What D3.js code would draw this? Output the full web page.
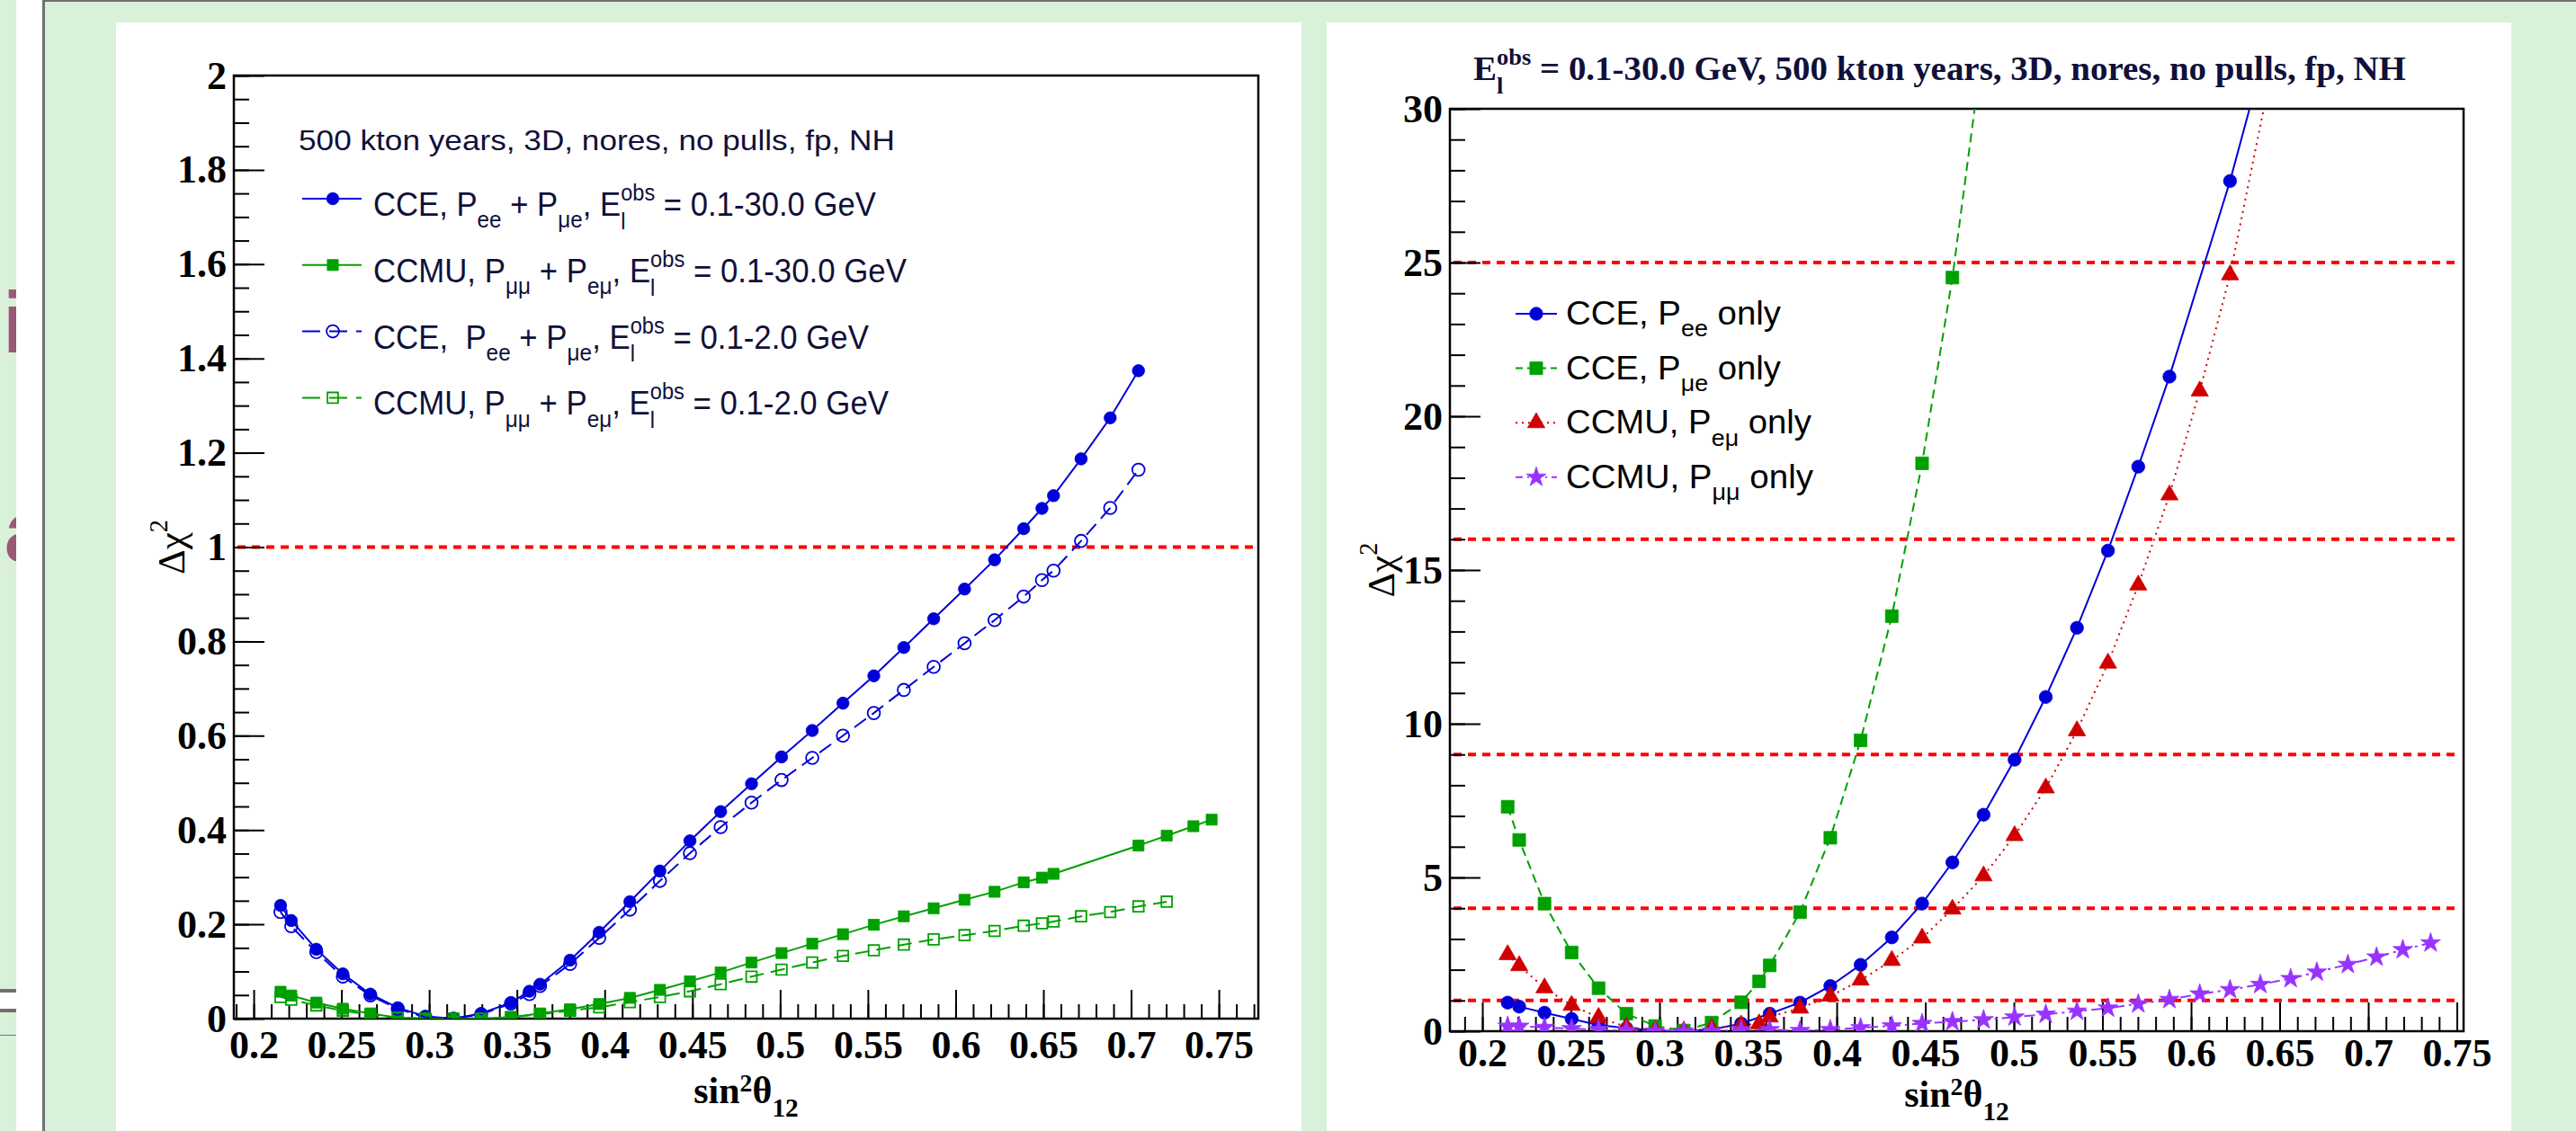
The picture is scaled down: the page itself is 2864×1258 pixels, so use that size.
<!DOCTYPE html>
<html>
<head>
<meta charset="utf-8">
<script src="https://cdn.jsdelivr.net/npm/d3@7"></script>
<style>
html, body { margin: 0; padding: 0; background: #d9f1d9; }
svg { display: block; }
text { white-space: pre; }
</style>
</head>
<body>
<svg id="chart" width="2864" height="1258"></svg>
<script>
// ---- left panel data (delta chi2 vs sin^2 theta12) ----
var xCceL = [0.2153,0.2214,0.2357,0.2508,0.2665,0.2821,0.2978,0.3139,0.3296,0.3466,0.3571,0.3632,0.3803,0.3969,0.4144,0.4315,0.4486,0.4661,0.4837,0.5008,0.5183,0.5358,0.5534,0.5705,0.5875,0.6051,0.6222,0.6388,0.6492,0.6558,0.6715,0.6881,0.7042];
var cce30 = [0.240,0.208,0.147,0.095,0.052,0.023,0.005,0.000,0.011,0.034,0.058,0.073,0.124,0.183,0.248,0.313,0.377,0.439,0.498,0.555,0.611,0.669,0.727,0.787,0.848,0.911,0.973,1.039,1.082,1.109,1.187,1.274,1.374];
var cce2  = [0.226,0.196,0.141,0.089,0.049,0.021,0.003,0.000,0.009,0.032,0.052,0.069,0.116,0.171,0.231,0.292,0.351,0.406,0.458,0.506,0.553,0.600,0.648,0.697,0.746,0.796,0.845,0.895,0.930,0.950,1.013,1.083,1.164];

var xCcmu30 = [0.2153,0.2214,0.2357,0.2508,0.2665,0.2821,0.2978,0.3139,0.3296,0.3466,0.3632,0.3803,0.3969,0.4144,0.4315,0.4486,0.4661,0.4837,0.5008,0.5183,0.5358,0.5534,0.5705,0.5875,0.6051,0.6222,0.6388,0.6492,0.6558,0.7042,0.7203,0.7355,0.7459];
var ccmu30  = [0.057,0.049,0.034,0.021,0.011,0.002,0,0,0,0.003,0.011,0.020,0.031,0.044,0.061,0.079,0.098,0.119,0.139,0.159,0.179,0.199,0.217,0.234,0.252,0.269,0.289,0.299,0.307,0.367,0.388,0.408,0.422];

var xCcmu2 = [0.2153,0.2214,0.2357,0.2508,0.2665,0.2821,0.2978,0.3139,0.3296,0.3466,0.3632,0.3803,0.3969,0.4144,0.4315,0.4486,0.4661,0.4837,0.5008,0.5183,0.5358,0.5534,0.5705,0.5875,0.6051,0.6222,0.6388,0.6492,0.6558,0.6715,0.6881,0.7042,0.7203];
var ccmu2  = [0.046,0.040,0.028,0.017,0.008,0.002,0,0,0,0.003,0.009,0.017,0.024,0.035,0.046,0.058,0.073,0.089,0.104,0.119,0.133,0.145,0.157,0.168,0.177,0.186,0.197,0.202,0.206,0.217,0.226,0.238,0.248];

// ---- right panel data ----
var xPee = [0.2143,0.2208,0.2351,0.2504,0.2656,0.2813,0.2975,0.3137,0.3294,0.3461,0.3622,0.3793,0.3964,0.4135,0.4311,0.4482,0.4653,0.4829,0.5004,0.5180,0.5356,0.5531,0.5702,0.5878,0.6220,0.6391];
var pee  = [0.93,0.80,0.60,0.40,0.20,0.10,0.02,0.0,0.05,0.25,0.57,0.93,1.47,2.16,3.05,4.15,5.49,7.04,8.83,10.87,13.12,15.63,18.36,21.29,27.65,31.3];

var xPme = [0.2143,0.2208,0.2351,0.2504,0.2656,0.2813,0.2975,0.3137,0.3294,0.3461,0.3562,0.3622,0.3793,0.3964,0.4135,0.4311,0.4482,0.4653,0.4829];
var pme  = [7.30,6.22,4.15,2.56,1.40,0.57,0.17,0.02,0.28,0.94,1.62,2.14,3.87,6.29,9.46,13.50,18.47,24.51,32.2];

var xPem = [0.2143,0.2208,0.2351,0.2504,0.2656,0.2813,0.2975,0.3137,0.3294,0.3461,0.3562,0.3622,0.3793,0.3964,0.4135,0.4311,0.4482,0.4653,0.4829,0.5004,0.5180,0.5356,0.5531,0.5702,0.5878,0.6049,0.6220,0.6562];
var pem  = [2.49,2.13,1.41,0.84,0.45,0.14,0.03,0.0,0.09,0.20,0.24,0.46,0.75,1.14,1.66,2.30,3.03,3.97,5.05,6.36,7.91,9.77,11.97,14.51,17.44,20.82,24.60,34.3];

var xPmm = [0.2143,0.2208,0.2351,0.2504,0.2656,0.2813,0.2975,0.3137,0.3294,0.3461,0.3622,0.3793,0.3964,0.4135,0.4311,0.4482,0.4653,0.4829,0.5004,0.5180,0.5356,0.5531,0.5702,0.5878,0.6049,0.6220,0.6391,0.6562,0.6710,0.6885,0.7047,0.7195,0.7352];
var pmm  = [0.16,0.16,0.12,0.08,0.06,0.02,0,0,0,0.04,0.05,0.02,0.05,0.11,0.17,0.25,0.31,0.37,0.46,0.55,0.65,0.75,0.89,1.03,1.21,1.35,1.52,1.71,1.92,2.17,2.41,2.65,2.87];

// ---- axes ----
var xTicks = [0.2,0.25,0.3,0.35,0.4,0.45,0.5,0.55,0.6,0.65,0.7,0.75];
var xTickLabels = ["0.2","0.25","0.3","0.35","0.4","0.45","0.5","0.55","0.6","0.65","0.7","0.75"];
var leftYTicks = [0,0.2,0.4,0.6,0.8,1,1.2,1.4,1.6,1.8,2];
var leftYLabels = ["0","0.2","0.4","0.6","0.8","1","1.2","1.4","1.6","1.8","2"];
var rightYTicks = [0,5,10,15,20,25,30];
var rightYLabels = ["0","5","10","15","20","25","30"];
var leftLevels = [1];
var rightLevels = [1,4,9,16,25];

var BLUE = "#0000d8", GREEN = "#00a000", RED = "#d00000", VIOLET = "#9933ff", TXT = "#10103a";
var SERIF = "'Liberation Serif','Times New Roman',serif";
var SANS = "'Liberation Sans',Arial,sans-serif";

var svg = d3.select("#chart");
var W = 2864, H = 1258;

// page background pieces
svg.append("rect").attr("width", W).attr("height", H).attr("fill", "#d9f1d9");
svg.append("rect").attr("x", 18).attr("y", 0).attr("width", 29).attr("height", H).attr("fill", "#fff");
svg.append("rect").attr("x", 47).attr("y", 0).attr("width", 3).attr("height", H).attr("fill", "#707070");
svg.append("rect").attr("x", 47).attr("y", 0).attr("width", W - 47).attr("height", 2).attr("fill", "#707070");
svg.append("rect").attr("x", 0).attr("y", 1100).attr("width", 18).attr("height", 4).attr("fill", "#707070");
svg.append("rect").attr("x", 0).attr("y", 1104).attr("width", 18).attr("height", 18).attr("fill", "#fff");
svg.append("rect").attr("x", 0).attr("y", 1122).attr("width", 18).attr("height", 4).attr("fill", "#707070");
svg.append("rect").attr("x", 0).attr("y", 1151).attr("width", 18).attr("height", 1).attr("fill", "#6a6ad0");
svg.append("clipPath").attr("id", "clipEdge").append("rect").attr("x", 0).attr("y", 0).attr("width", 18).attr("height", H);
var edge = svg.append("g").attr("clip-path", "url(#clipEdge)")
  .style("font-family", SANS).style("font-weight", "bold").style("font-size", "96px").attr("fill", "#9a5877");
edge.append("text").attr("x", 3).attr("y", 392).text("i");
edge.append("text").attr("x", -22).attr("y", 624).text("ia");
svg.append("rect").attr("x", 129).attr("y", 25).attr("width", 1318).attr("height", H - 25).attr("fill", "#fff");
svg.append("rect").attr("x", 1475).attr("y", 25).attr("width", 1317).attr("height", H - 25).attr("fill", "#fff");

// text with sub/superscripts, pieces placed one after another; optional fit to a width
function rich(parent, x, y, parts, size, family, weight, fill, fitW, supUp) {
  var g = parent.append("g");
  var cx = 0;
  var up = supUp || 0.44;
  function put(t, px, py, fs) {
    var el = g.append("text").attr("x", px).attr("y", py)
      .style("font-family", family).style("font-weight", weight)
      .style("font-size", fs + "px").attr("fill", fill).text(t);
    return el.node().getComputedTextLength();
  }
  parts.forEach(function(p) {
    if (p.t !== undefined) cx += put(p.t, cx, 0, size);
    if (p.sub !== undefined) cx += put(p.sub, cx, size * 0.36, size * 0.7);
    if (p.sup !== undefined) cx += put(p.sup, cx, -size * up, size * 0.66);
    if (p.ss !== undefined) {
      var a = put(p.ss[0], cx, -size * 0.46, size * 0.68);
      var b = put(p.ss[1], cx, size * 0.4, size * 0.68);
      cx += Math.max(a, b);
    }
  });
  var s = fitW ? fitW / cx : 1;
  g.attr("transform", "translate(" + x + "," + y + ") scale(" + s + ",1)");
  return cx * s;
}

function symbolPath(kind, size) {
  var t = {circle: d3.symbolCircle, square: d3.symbolSquare, triangle: d3.symbolTriangle, star: d3.symbolStar}[kind];
  return d3.symbol().type(t).size(size)();
}

function drawMarker(g, kind, size, color, filled, x, y) {
  g.append("path").attr("d", symbolPath(kind, size))
    .attr("transform", "translate(" + x + "," + y + ")")
    .attr("fill", filled ? color : "none")
    .attr("stroke", color).attr("stroke-width", filled ? 0.8 : 1.8);
}

function panel(cfg) {
  var g = svg.append("g");
  var x = d3.scaleLinear().domain(cfg.xDomain).range([cfg.left, cfg.right]);
  var y = d3.scaleLinear().domain(cfg.yDomain).range([cfg.bottom, cfg.top]);
  var id = "clip" + cfg.name;
  svg.append("clipPath").attr("id", id).append("rect")
    .attr("x", cfg.left).attr("y", cfg.top)
    .attr("width", cfg.right - cfg.left).attr("height", cfg.bottom - cfg.top);

  // reference levels
  g.append("g").selectAll("line").data(cfg.levels).enter().append("line")
    .attr("x1", cfg.left + 4).attr("x2", cfg.right - 4)
    .attr("y1", function(d) { return y(d); }).attr("y2", function(d) { return y(d); })
    .attr("stroke", "#ff0000").attr("stroke-width", 4).attr("stroke-dasharray", "9 7");

  // minor + major ticks, pointing into the frame
  var xAxisG = g.append("g").attr("transform", "translate(0," + cfg.bottom + ")");
  xAxisG.append("g").call(d3.axisBottom(x).tickValues(cfg.xMinor).tickFormat("").tickSizeInner(-16).tickSizeOuter(0));
  xAxisG.append("g").call(d3.axisBottom(x).tickValues(xTicks)
      .tickFormat(function(d, i) { return xTickLabels[i]; })
      .tickSizeInner(-32).tickSizeOuter(0).tickPadding(cfg.xPad));
  var yAxisG = g.append("g").attr("transform", "translate(" + cfg.left + ",0)");
  yAxisG.append("g").call(d3.axisLeft(y).tickValues(cfg.yMinor).tickFormat("").tickSizeInner(-17).tickSizeOuter(0));
  yAxisG.append("g").call(d3.axisLeft(y).tickValues(cfg.yTicks)
      .tickFormat(function(d, i) { return cfg.yLabels[i]; })
      .tickSizeInner(-34).tickSizeOuter(0).tickPadding(8));
  g.selectAll(".domain").remove();
  g.selectAll(".tick line").attr("stroke", "#000").attr("stroke-width", 2);
  g.selectAll(".tick text").style("font-family", SERIF).style("font-weight", "bold")
    .style("font-size", "44px").attr("fill", "#000");

  // frame
  g.append("rect").attr("x", cfg.left).attr("y", cfg.top)
    .attr("width", cfg.right - cfg.left).attr("height", cfg.bottom - cfg.top)
    .attr("fill", "none").attr("stroke", "#000").attr("stroke-width", 2.5);

  // series
  var sg = g.append("g").attr("clip-path", "url(#" + id + ")");
  cfg.series.forEach(function(s) {
    var pts = s.x.map(function(v, i) { return [x(v), y(s.y[i])]; });
    sg.append("path").datum(pts).attr("d", d3.line())
      .attr("fill", "none").attr("stroke", s.color).attr("stroke-width", 2)
      .attr("stroke-dasharray", s.dash || null);
    pts.forEach(function(p) { drawMarker(sg, s.kind, s.size, s.color, s.filled, p[0], p[1]); });
  });

  // axis titles
  var xt = g.append("g");
  var w = rich(xt, 0, 0, [{t: "sin"}, {sup: "2"}, {t: "θ"}, {sub: "12"}], 42, SERIF, "bold", "#000", null, 0.3);
  xt.attr("transform", "translate(" + ((cfg.left + cfg.right) / 2 - w / 2) + "," + cfg.xTitleY + ")");
  var yt = g.append("g");
  var w2 = rich(yt, 0, 0, [{t: "Δχ"}, {sup: "2"}], 43, SERIF, "normal", "#000");
  yt.attr("transform", "translate(" + cfg.yTitleX + "," + ((cfg.top + cfg.bottom) / 2 + w2 / 2) + ") rotate(-90)");
  return {g: g, x: x, y: y};
}

var L = panel({
  name: "L", left: 260, right: 1399, top: 84, bottom: 1133,
  xDomain: [0.1887, 0.7725], yDomain: [0, 2],
  xMinor: d3.range(19, 78).map(function(v) { return v / 100; }),
  yMinor: d3.range(0, 41).map(function(v) { return v * 0.05; }),
  yTicks: leftYTicks, yLabels: leftYLabels, levels: leftLevels,
  xPad: 13, xTitleY: 1227, yTitleX: 205,
  series: [
    {x: xCceL, y: cce30, color: BLUE, kind: "circle", size: 145, filled: true},
    {x: xCcmu30, y: ccmu30, color: GREEN, kind: "square", size: 150, filled: true},
    {x: xCceL, y: cce2, color: BLUE, kind: "circle", size: 150, filled: false, dash: "16 8"},
    {x: xCcmu2, y: ccmu2, color: GREEN, kind: "square", size: 140, filled: false, dash: "16 8"}
  ]
});

var R = panel({
  name: "R", left: 1612, right: 2739, top: 121, bottom: 1147,
  xDomain: [0.1817, 0.7538], yDomain: [0, 30],
  xMinor: d3.range(19, 76).map(function(v) { return v / 100; }),
  yMinor: d3.range(0, 31),
  yTicks: rightYTicks, yLabels: rightYLabels, levels: rightLevels,
  xPad: 8, xTitleY: 1231, yTitleX: 1550,
  series: [
    {x: xPee, y: pee, color: BLUE, kind: "circle", size: 165, filled: true},
    {x: xPme, y: pme, color: GREEN, kind: "square", size: 200, filled: true, dash: "10 6"},
    {x: xPem, y: pem, color: RED, kind: "triangle", size: 160, filled: true, dash: "2 5"},
    {x: xPmm, y: pmm, color: VIOLET, kind: "star", size: 150, filled: true, dash: "12 5 3 5"}
  ]
});

// ---- left legend ----
var lg = svg.append("g");
rich(lg, 332, 167, [{t: "500 kton years, 3D, nores, no pulls, fp, NH"}], 32, SANS, "normal", TXT, 663);
var leftEntries = [
  {color: BLUE, kind: "circle", size: 145, filled: true, dash: null, w: 559,
   parts: [{t: "CCE, P"}, {sub: "ee"}, {t: " + P"}, {sub: "μe"}, {t: ", E"}, {ss: ["obs", "l"]}, {t: " = 0.1-30.0 GeV"}]},
  {color: GREEN, kind: "square", size: 150, filled: true, dash: null, w: 593,
   parts: [{t: "CCMU, P"}, {sub: "μμ"}, {t: " + P"}, {sub: "eμ"}, {t: ", E"}, {ss: ["obs", "l"]}, {t: " = 0.1-30.0 GeV"}]},
  {color: BLUE, kind: "circle", size: 150, filled: false, dash: "20 10", w: 551,
   parts: [{t: "CCE,  P"}, {sub: "ee"}, {t: " + P"}, {sub: "μe"}, {t: ", E"}, {ss: ["obs", "l"]}, {t: " = 0.1-2.0 GeV"}]},
  {color: GREEN, kind: "square", size: 140, filled: false, dash: "20 10", w: 573,
   parts: [{t: "CCMU, P"}, {sub: "μμ"}, {t: " + P"}, {sub: "eμ"}, {t: ", E"}, {ss: ["obs", "l"]}, {t: " = 0.1-2.0 GeV"}]}
];
leftEntries.forEach(function(e, i) {
  var base = 240 + i * 73.8, my = base - 19;
  lg.append("line").attr("x1", 336).attr("x2", 402).attr("y1", my).attr("y2", my)
    .attr("stroke", e.color).attr("stroke-width", 2).attr("stroke-dasharray", e.dash);
  drawMarker(lg, e.kind, e.size, e.color, e.filled, 370, my);
  rich(lg, 415, base, e.parts, 37, SANS, "normal", TXT, e.w);
});

// ---- right legend + title ----
var rg = svg.append("g");
var rightEntries = [
  {color: BLUE, kind: "circle", size: 165, dash: null, w: 239, parts: [{t: "CCE, P"}, {sub: "ee"}, {t: " only"}]},
  {color: GREEN, kind: "square", size: 200, dash: "8 5", w: 239, parts: [{t: "CCE, P"}, {sub: "μe"}, {t: " only"}]},
  {color: RED, kind: "triangle", size: 160, dash: "2 5", w: 273, parts: [{t: "CCMU, P"}, {sub: "eμ"}, {t: " only"}]},
  {color: VIOLET, kind: "star", size: 150, dash: "8 5 2 5", w: 275, parts: [{t: "CCMU, P"}, {sub: "μμ"}, {t: " only"}]}
];
rightEntries.forEach(function(e, i) {
  var base = 361 + i * 60.6, my = base - 12;
  rg.append("line").attr("x1", 1685).attr("x2", 1731).attr("y1", my).attr("y2", my)
    .attr("stroke", e.color).attr("stroke-width", 2).attr("stroke-dasharray", e.dash);
  drawMarker(rg, e.kind, e.size, e.color, true, 1708, my);
  rich(rg, 1741, base, e.parts, 37, SANS, "normal", "#000", e.w);
});
rich(rg, 1638, 89, [{t: "E"}, {ss: ["obs", "l"]}, {t: " = 0.1-30.0 GeV, 500 kton years, 3D, nores, no pulls, fp, NH"}],
     38, SERIF, "bold", TXT, 1037);
</script>
</body>
</html>
